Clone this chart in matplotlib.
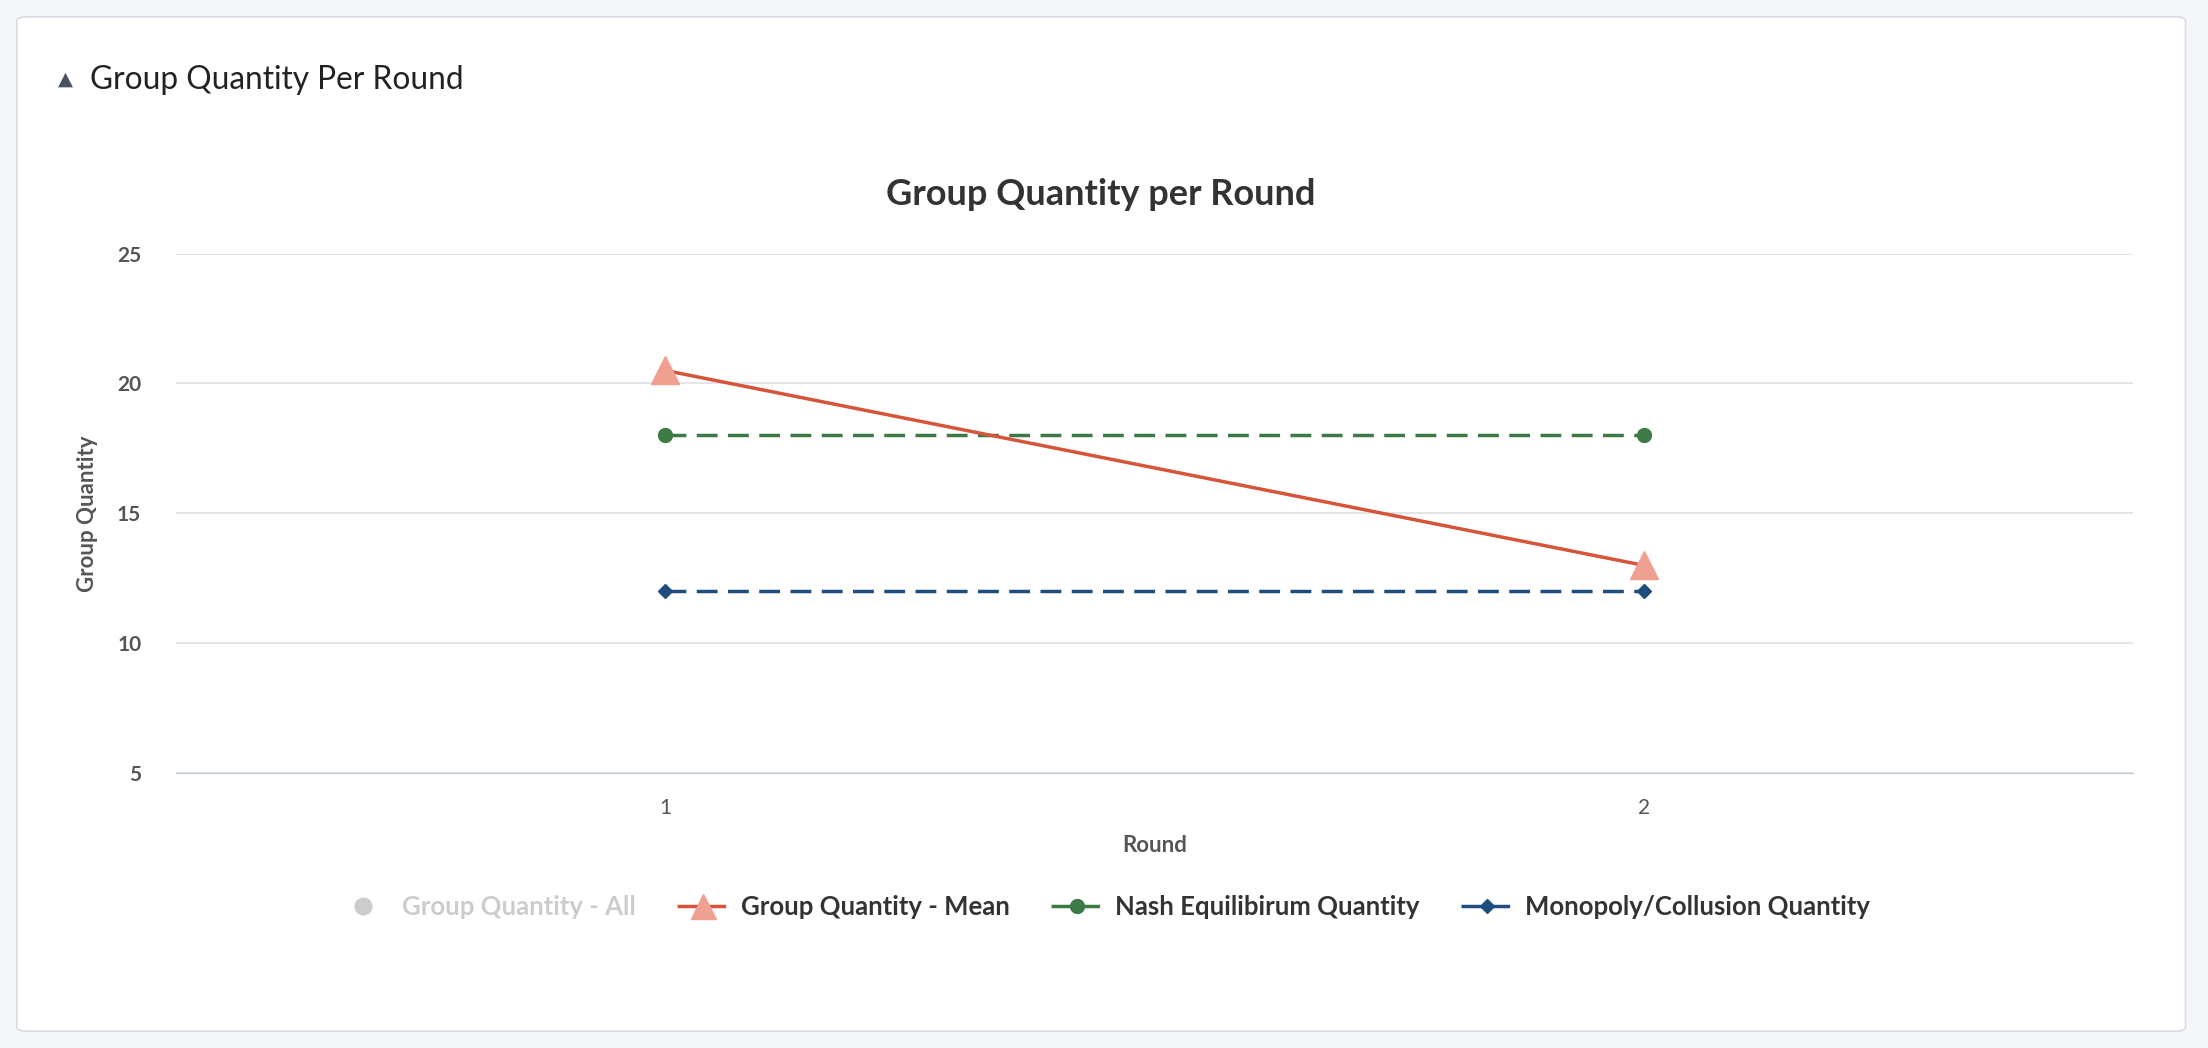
import matplotlib
matplotlib.use("Agg")
import matplotlib.pyplot as plt
from matplotlib.patches import FancyBboxPatch
from matplotlib.lines import Line2D

rounds = [1, 2]
mean_q = [20.5, 13]
nash_q = [18, 18]
mono_q = [12, 12]
yticks = [5, 10, 15, 20, 25]

plt.rcParams['font.family'] = ['Lato', 'DejaVu Sans']
W, H = 1568, 744
fig = plt.figure(figsize=(22.08, 10.48), dpi=100)
fig.patch.set_facecolor('#f4f6f9')
card = FancyBboxPatch((12/W, 1-732/H), 1540/W, 720/H, boxstyle="round,pad=0,rounding_size=0.004",
                      transform=fig.transFigure, facecolor='white', edgecolor='#d8dce2', lw=1.2, zorder=-10)
fig.patches.append(card)
fig.text(41/W, 1-56/H, '\u25b2', fontsize=14, color='#4a5160', va='center', ha='left', family=['DejaVu Sans'])
fig.text(64/W, 1-57/H, 'Group Quantity Per Round', fontsize=22.8, color='#222', va='center')
fig.text(782/W, 1-138/H, 'Group Quantity per Round', fontsize=26, fontweight='bold', color='#333', ha='center', va='center')

ax = fig.add_axes([125/W, 1-549/H, 1390/W, 369/H])
ax.set_facecolor('none')
ax.set_xlim(0.5, 2.5)
ax.set_ylim(5, 25)
ax.plot(rounds, nash_q, color='#3d7a45', lw=2.5, ls=(0, (6, 3)), marker='o', ms=10)
ax.plot(rounds, mono_q, color='#1f4e7e', lw=2.5, ls=(0, (6, 3)), marker='D', ms=7)
ax.plot(rounds, mean_q, color='#d6553a', lw=2.5)
ax.plot(rounds, mean_q, ls='none', marker='^', ms=20, color='#f0a090')
ax.set_yticks(yticks)
ax.set_xticks(rounds)
ax.grid(axis='y', color='#dde1e6', lw=1.2)
ax.set_axisbelow(True)
for s in ['top', 'right', 'left']:
    ax.spines[s].set_visible(False)
ax.spines['bottom'].set_color('#b8c4d0')
ax.tick_params(length=0, labelsize=15, colors='#555', pad=18)
for t in ax.get_yticklabels():
    t.set_fontweight('bold')
ax.tick_params(axis='y', pad=25)
ax.set_xlabel('Round', fontsize=16, fontweight='bold', color='#555', labelpad=12)
ax.set_ylabel('Group Quantity', fontsize=16, fontweight='bold', color='#555', labelpad=14)

handles = [
    Line2D([], [], ls='none', marker='o', ms=12, color='#cccccc'),
    Line2D([], [], color='#d6553a', lw=2.5, ls=(0, (6, 2)), marker='^', ms=18, markerfacecolor='#f0a090', markeredgecolor='#f0a090'),
    Line2D([], [], color='#3d7a45', lw=2.5, ls=(0, (6, 2)), marker='o', ms=10),
    Line2D([], [], color='#1f4e7e', lw=2.5, ls=(0, (6, 2)), marker='D', ms=7),
]
labels = ['Group Quantity - All', 'Group Quantity - Mean', 'Nash Equilibirum Quantity', 'Monopoly/Collusion Quantity']
leg = fig.legend(handles, labels, loc='center', bbox_to_anchor=(784/W, 1-644/H), ncol=4, frameon=False,
                 prop={'size': 18.5, 'weight': 'bold'}, handlelength=2.0, columnspacing=1.6, handletextpad=0.5)
for i, t in enumerate(leg.get_texts()):
    t.set_color('#cccccc' if i == 0 else '#333')
fig.savefig('out.png', dpi=100, facecolor=fig.get_facecolor())
